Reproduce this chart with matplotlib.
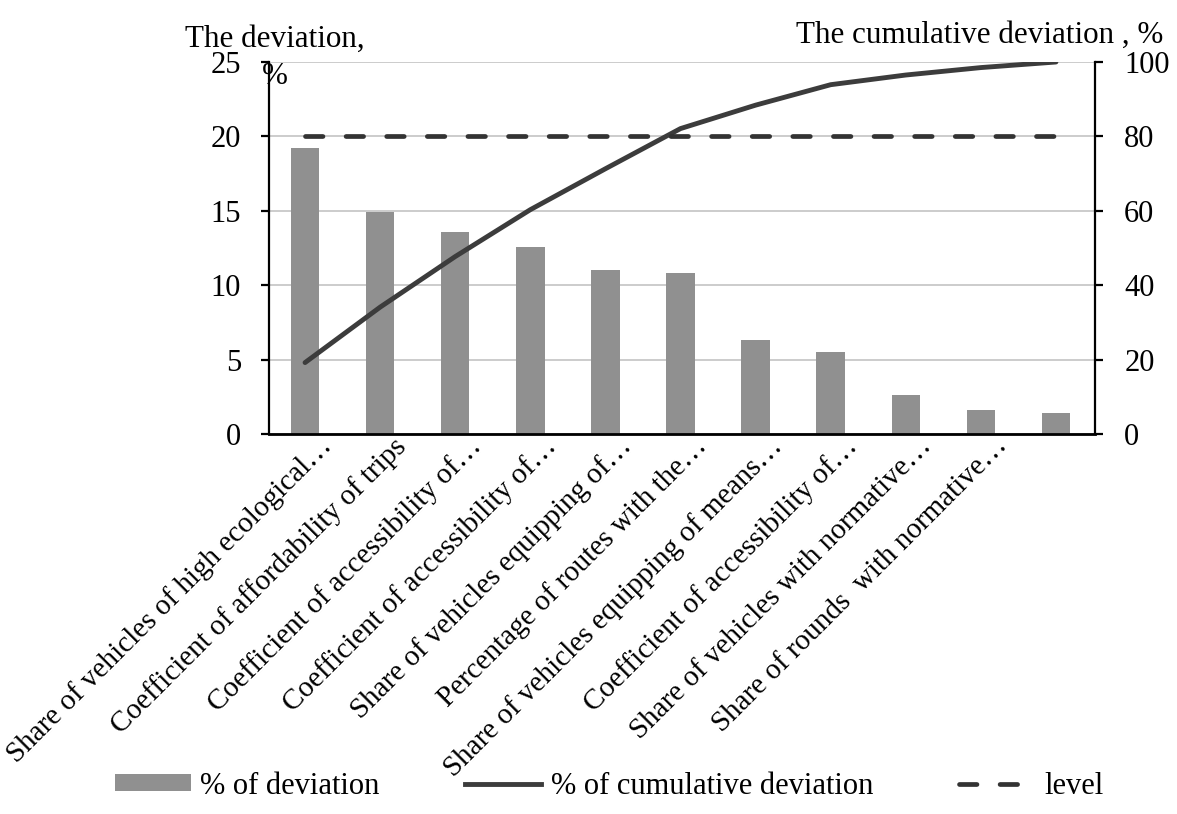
import matplotlib
matplotlib.use("Agg")
import matplotlib.pyplot as plt
import matplotlib.transforms as mtransforms
from matplotlib.patches import Patch
from matplotlib.lines import Line2D

categories = [
    "Share of vehicles of high ecological…",
    "Coefficient of affordability of trips",
    "Coefficient of accessibility of…",
    "Coefficient of accessibility of…",
    "Share of vehicles equipping of…",
    "Percentage of routes with the…",
    "Share of vehicles equipping of means…",
    "Coefficient of accessibility of…",
    "Share of vehicles with normative…",
    "Share of rounds  with normative…",
    "",
]
deviation = [19.2, 14.9, 13.6, 12.6, 11.0, 10.8, 6.3, 5.5, 2.6, 1.6, 1.4]
cumulative = [19.2, 34.1, 47.7, 60.3, 71.3, 82.1, 88.4, 93.9, 96.5, 98.5, 100.0]
level = [80] * 11
left_ticks = [0, 5, 10, 15, 20, 25]
right_ticks = [0, 20, 40, 60, 80, 100]

plt.rcParams["font.family"] = ["Liberation Serif", "DejaVu Serif"]
FS_TICK = 22
FS_CAT = 21
FS_TITLE = 22.4
FS_LEG = 22

W, H = 1177, 814
fig = plt.figure(figsize=(W / 100, H / 100), dpi=100)
ax = fig.add_axes([269 / W, 1 - 434 / H, (1095 - 269) / W, (434 - 62) / H])
ax2 = ax.twinx()

x = list(range(len(categories)))
ax.bar(x, deviation, width=0.38, color="#909090", zorder=2)
ax.set_xlim(-0.48, 10.52)
ax.set_ylim(0, 25)
ax.set_yticks(left_ticks)
ax.grid(axis="y", color="#c8c8c8", linewidth=1.3, zorder=0)
ax.set_axisbelow(True)

DASH = [3.7, 4.9]
ax2.plot(x, cumulative, color="#3c3c3c", linewidth=3.5, solid_capstyle="round",
         solid_joinstyle="round", zorder=3)
ln, = ax2.plot(x, level, color="#333333", linewidth=3.4, dash_capstyle="round", zorder=3)
ln.set_dashes(DASH)
ax2.set_ylim(0, 100)
ax2.set_yticks(right_ticks)

for a in (ax, ax2):
    a.spines["top"].set_visible(False)
    a.spines["left"].set_linewidth(1.6)
    a.spines["right"].set_linewidth(1.6)
    a.spines["bottom"].set_linewidth(2.0)
ax.spines["right"].set_visible(False)
ax2.spines["left"].set_visible(False)
ax2.spines["bottom"].set_visible(False)

ax.tick_params(axis="y", length=6, width=1.6, pad=14, labelsize=FS_TICK)
ax2.tick_params(axis="y", length=6, width=1.6, pad=15, labelsize=FS_TICK)
ax.tick_params(axis="x", length=0, pad=2)

ax.set_xticks(x)
ax.set_xticklabels(categories, rotation=45, ha="right", va="top",
                   rotation_mode="anchor", fontsize=FS_CAT)
offset = mtransforms.ScaledTranslation(13 / 100, 4 / 100, fig.dpi_scale_trans)
for lbl in ax.get_xticklabels():
    lbl.set_transform(lbl.get_transform() + offset)

fig.text(275 / W, 1 - 47 / H, "The deviation,", ha="center", va="baseline",
         fontsize=FS_TITLE)
fig.text(275 / W, 1 - 84 / H, "%", ha="center", va="baseline", fontsize=FS_TITLE)
fig.text(1163 / W, 1 - 43 / H, "The cumulative deviation , %", ha="right",
         va="baseline", fontsize=FS_TITLE)

handles = [
    Patch(facecolor="#909090", edgecolor="none"),
    Line2D([0], [0], color="#3c3c3c", linewidth=3.5),
    Line2D([0], [0], color="#333333", linewidth=3.4, dashes=DASH, dash_capstyle="round"),
]
labels = ["% of deviation", "% of cumulative deviation", "level"]
fig.legend(handles, labels, loc="center", bbox_to_anchor=(609 / W, 1 - 786 / H),
           ncol=3, frameon=False, fontsize=FS_LEG, handlelength=2.5, handleheight=0.5,
           handletextpad=0.3, columnspacing=2.8)

fig.savefig("out.png", dpi=100)
